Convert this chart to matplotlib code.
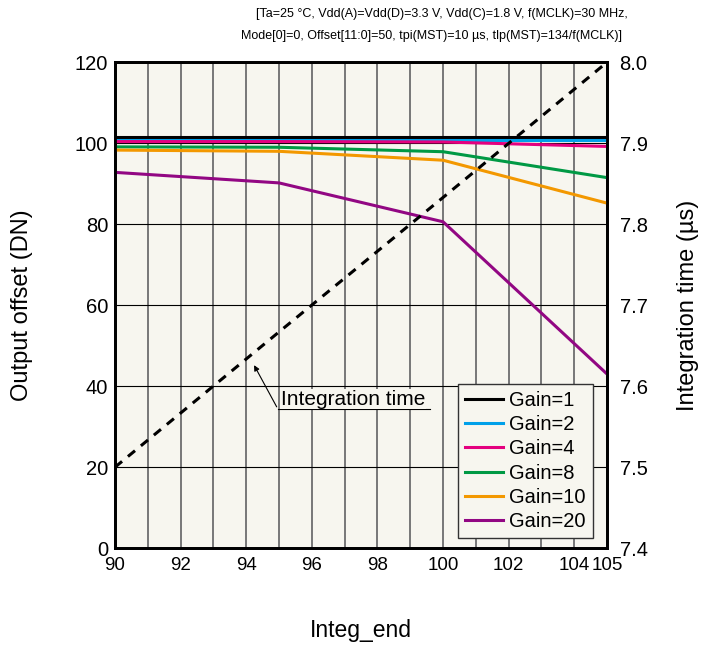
import numpy as np
import matplotlib.pyplot as plt

plt.rcParams['font.family'] = ['Liberation Sans', 'DejaVu Sans']

# data
integ_end = [90, 95, 100, 105]
gain_labels = ['Gain=1', 'Gain=2', 'Gain=4', 'Gain=8', 'Gain=10', 'Gain=20']
gain1 = [101.6, 101.6, 101.6, 101.6]
gain2 = [100.8, 100.8, 100.8, 100.8]
gain4 = [100.4, 100.4, 100.3, 99.2]
gain8 = [99.1, 99.0, 97.9, 91.5]
gain10 = [98.3, 98.0, 95.8, 85.2]
gain20 = [92.8, 90.2, 80.6, 43.0]
integ_time = [7.5, 7.667, 7.833, 8.0]
time_ticks = ['7.4', '7.5', '7.6', '7.7', '7.8', '7.9', '8.0']

colors = ['#000000', '#00a0e9', '#e4007f', '#009944', '#f39800', '#920783']
series = [gain1, gain2, gain4, gain8, gain10, gain20]

fig = plt.figure(figsize=(7.01, 6.48), dpi=100)
ax = fig.add_axes([0.164, 0.154, 0.702, 0.75])
ax.set_facecolor('#f7f6ef')

# grid
for xv in range(91, 105):
    ax.axvline(xv, color='#777777', lw=1.4, zorder=1)
for yv in range(20, 120, 20):
    ax.axhline(yv, color='black', lw=0.8, zorder=1)

for vals, lab, c in zip(series, gain_labels, colors):
    ax.plot(integ_end, vals, color=c, lw=2.2, label=lab, zorder=3)

ax.set_xlim(90, 105)
ax.set_ylim(0, 120)
ax.set_xticks([90, 92, 94, 96, 98, 100, 102, 104, 105])
ax.set_yticks(range(0, 121, 20))
ax.tick_params(length=0, labelsize=14.5, pad=5)
ax.tick_params(axis='x', labelsize=13.5, pad=6)
for s in ax.spines.values():
    s.set_linewidth(2)

ax2 = ax.twinx()
ax2.plot(integ_end, integ_time, color='black', lw=2.2, ls=(0, (3, 2.5)), zorder=4)
ax2.set_ylim(7.4, 8.0)
ax2.set_yticks(np.linspace(7.4, 8.0, 7))
ax2.set_yticklabels(time_ticks)
ax2.tick_params(length=0, labelsize=14.5, pad=9)
for s in ax2.spines.values():
    s.set_linewidth(2)

ax.set_ylabel('Output offset (DN)', fontsize=17)
ax.yaxis.set_label_coords(-0.166, 0.5)
ax2.set_ylabel('Integration time (µs)', fontsize=17)
ax2.yaxis.set_label_coords(1.143, 0.5)
ax.set_xlabel('Integ_end', fontsize=16.5)
ax.xaxis.set_label_coords(0.5, -0.146)

fig.text(0.631, 0.978, '[Ta=25 °C, Vdd(A)=Vdd(D)=3.3 V, Vdd(C)=1.8 V, f(MCLK)=30 MHz,',
         ha='center', va='center', fontsize=9)
fig.text(0.615, 0.945, 'Mode[0]=0, Offset[11:0]=50, tpi(MST)=10 µs, tlp(MST)=134/f(MCLK)]',
         ha='center', va='center', fontsize=9)

# annotation for the dashed line
ax.annotate('', xy=(94.2, 45.8), xytext=(94.97, 34.3),
            arrowprops=dict(arrowstyle='-|>', color='black', lw=0.8, mutation_scale=8), zorder=5)
ax.plot([94.97, 99.6], [34.3, 34.3], color='black', lw=0.8, zorder=5)
ax.text(95.06, 35.4, 'Integration time', fontsize=15, ha='left', va='baseline', zorder=5,
        bbox=dict(facecolor='#f7f6ef', edgecolor='none', pad=0.5))

leg = ax.legend(loc='lower right', bbox_to_anchor=(0.9715, 0.0206), fontsize=14.5,
                frameon=True, fancybox=False, edgecolor='#333333', facecolor='#f7f6ef',
                framealpha=1, handlelength=1.9, handletextpad=0.3, labelspacing=0.26,
                borderpad=0.35, borderaxespad=0)
leg.get_frame().set_linewidth(1)
leg.set_zorder(10)

fig.savefig('out.png', dpi=100)
